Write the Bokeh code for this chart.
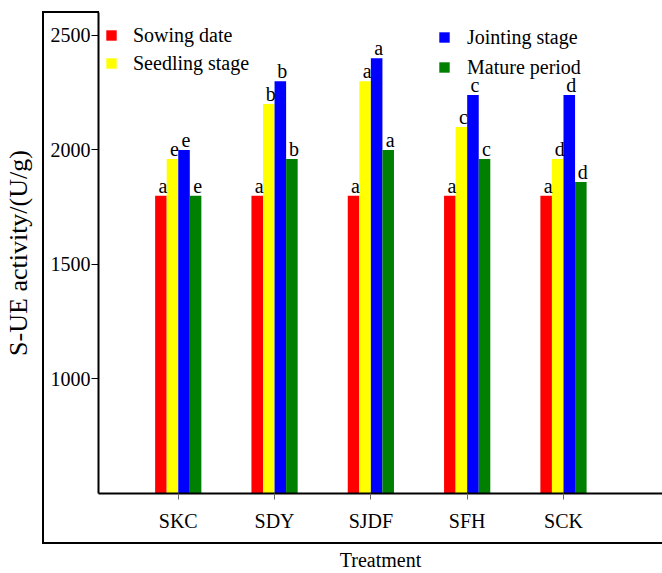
from bokeh.plotting import figure
from bokeh.models import (ColumnDataSource, FixedTicker, Legend, LegendItem,
                          Range1d, InlineStyleSheet)
from bokeh.embed import file_html
from bokeh.resources import INLINE
from bokeh.core.properties import value

# ---- data ----
treatments = ["SKC", "SDY", "SJDF", "SFH", "SCK"]
stages = ["Sowing date", "Seedling stage", "Jointing stage", "Mature period"]
sowing = [1800, 1800, 1800, 1800, 1800]
seedling = [1960, 2200, 2300, 2100, 1960]
jointing = [2000, 2300, 2400, 2240, 2240]
mature = [1800, 1960, 2000, 1960, 1860]
sowing_sig = ["a", "a", "a", "a", "a"]
seedling_sig = ["e", "b", "a", "c", "d"]
jointing_sig = ["e", "b", "a", "c", "d"]
mature_sig = ["e", "b", "a", "c", "d"]
y_ticks = [1000, 1500, 2000, 2500]

series = [sowing, seedling, jointing, mature]
sigs = [sowing_sig, seedling_sig, jointing_sig, mature_sig]
colors = ["#FF0000", "#FFFF00", "#0000FF", "#008000"]
offsets = [-0.18, -0.06, 0.06, 0.18]
bar_w = 0.12
FONT = "Liberation Serif"

xpos = list(range(1, len(treatments) + 1))

p = figure(width=662, height=573, x_range=Range1d(0.172, 6.028),
           y_range=Range1d(500, 2600), output_backend="svg",
           toolbar_location=None, title=None,
           min_border_left=98, min_border_top=12, min_border_right=0,
           min_border_bottom=78)
p.outline_line_color = None
p.xgrid.visible = False
p.ygrid.visible = False
p.background_fill_color = "white"
p.border_fill_color = "white"

sources = []
legend_renderers = []
for vals, sg, col, off in zip(series, sigs, colors, offsets):
    src = ColumnDataSource(dict(x=[x + off for x in xpos], top=vals, sig=sg))
    sources.append(src)
    p.vbar(x="x", top="top", bottom=500, width=bar_w, source=src,
           fill_color=col, line_color=None)
    # legend proxy: square markers of size 0 (invisible on the plot)
    r = p.scatter(x="x", y="top", source=src, marker="square", size=0,
                  fill_color=col, line_color=None)
    legend_renderers.append(r)

# significance letters drawn after all bars
for src in sources:
    p.text(x="x", y="top", text="sig", source=src, text_align="center",
           text_baseline="alphabetic", x_offset=2, y_offset=-10,
           text_font=value(FONT), text_font_size="20px", text_color="black")

common = dict(label_text_font=FONT, label_text_font_size="20px",
              label_text_color="black", glyph_width=26, glyph_height=26,
              padding=0, margin=0, border_line_color=None,
              background_fill_alpha=0)
leg1 = Legend(items=[LegendItem(label=stages[0], renderers=[legend_renderers[0]]),
                     LegendItem(label=stages[1], renderers=[legend_renderers[1]])],
              location=(0, 417), label_standoff=9, spacing=2, **common)
leg2 = Legend(items=[LegendItem(label=stages[2], renderers=[legend_renderers[2]]),
                     LegendItem(label=stages[3], renderers=[legend_renderers[3]])],
              location=(333, 413), label_standoff=10, spacing=4, **common)
p.add_layout(leg1, "center")
p.add_layout(leg2, "center")

# axes
xa = p.xaxis[0]
xa.ticker = FixedTicker(ticks=xpos)
xa.major_label_overrides = {x: t for x, t in zip(xpos, treatments)}
xa.axis_label = "Treatment"
xa.axis_line_width = 2
xa.axis_line_color = "black"
xa.major_tick_line_color = "#666666"
xa.major_tick_out = 6
xa.major_tick_in = 0
xa.minor_tick_line_color = None
xa.major_label_standoff = 10
xa.major_label_text_font = FONT
xa.major_label_text_font_size = "20px"
xa.major_label_text_color = "black"
xa.axis_label_text_font = FONT
xa.axis_label_text_font_size = "20px"
xa.axis_label_text_font_style = "normal"
xa.axis_label_text_color = "black"
xa.axis_label_standoff = 14

ya = p.yaxis[0]
ya.ticker = FixedTicker(ticks=y_ticks)
ya.axis_label = "S-UE activity/(U/g)"
ya.axis_line_width = 2
ya.axis_line_color = "black"
ya.major_tick_line_color = "black"
ya.major_tick_out = 7
ya.major_tick_in = 0
ya.minor_tick_line_color = None
ya.major_label_standoff = 1
ya.major_label_text_font = FONT
ya.major_label_text_font_size = "20px"
ya.major_label_text_color = "black"
ya.axis_label_text_font = FONT
ya.axis_label_text_font_size = "26px"
ya.axis_label_text_font_style = "normal"
ya.axis_label_text_color = "black"
ya.axis_label_standoff = 15

# outer frame lines around the axes area (decoration)
css = """
:host { position: relative; }
:host::before {
  content: ""; position: absolute; left: 42px; top: 11px;
  width: 618px; height: 531px; box-sizing: content-box;
  border-left: 2px solid black; border-bottom: 2px solid black;
  z-index: 100; pointer-events: none;
}
:host::after {
  content: ""; position: absolute; left: 42px; top: 11px;
  width: 57px; height: 2px; background: black;
  z-index: 100; pointer-events: none;
}
"""
p.stylesheets = [InlineStyleSheet(css=css)]

open("out.html", "w").write(file_html(p, INLINE))
